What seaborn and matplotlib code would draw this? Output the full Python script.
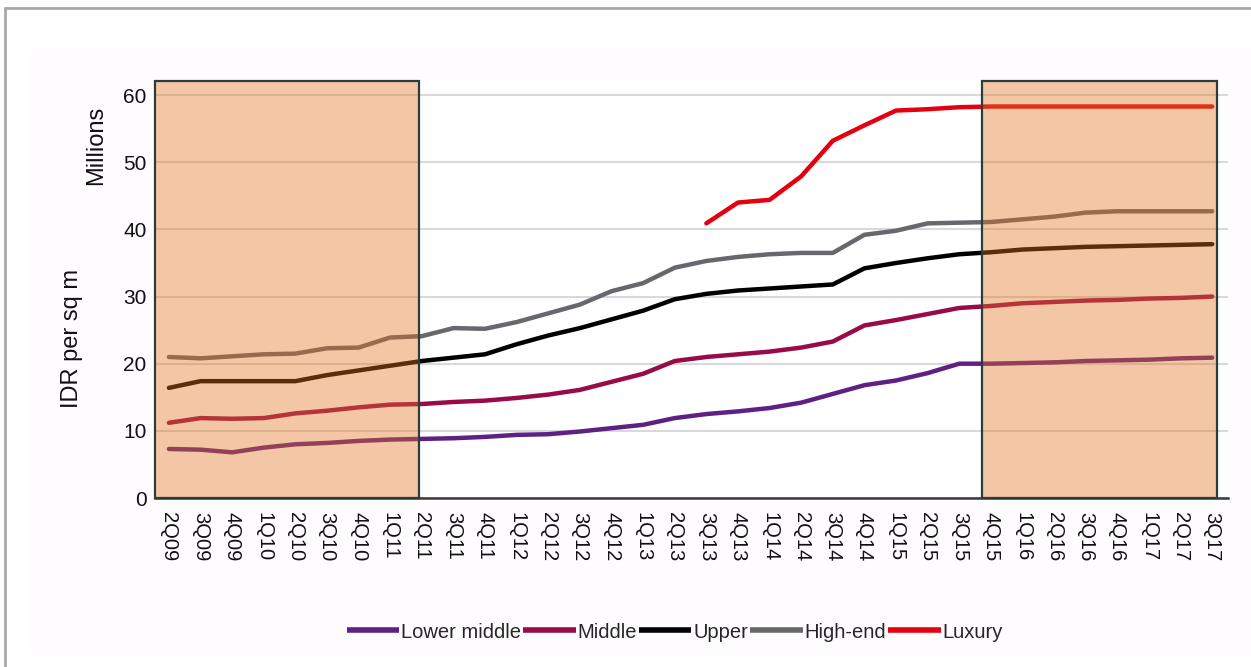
import numpy as np
import pandas as pd
import matplotlib
matplotlib.use("Agg")
import matplotlib.pyplot as plt
from matplotlib.patches import Rectangle
from matplotlib.lines import Line2D
import seaborn as sns

# Quarterly labels, 2Q09 .. 3Q17
quarters = ["2Q09", "3Q09", "4Q09",
            "1Q10", "2Q10", "3Q10", "4Q10",
            "1Q11", "2Q11", "3Q11", "4Q11",
            "1Q12", "2Q12", "3Q12", "4Q12",
            "1Q13", "2Q13", "3Q13", "4Q13",
            "1Q14", "2Q14", "3Q14", "4Q14",
            "1Q15", "2Q15", "3Q15", "4Q15",
            "1Q16", "2Q16", "3Q16", "4Q16",
            "1Q17", "2Q17", "3Q17"]

# Prices in IDR millions per sq m
lower_middle = [7.3, 7.2, 6.8, 7.5, 8.0, 8.2, 8.5, 8.7, 8.8, 8.9, 9.1, 9.4,
                9.5, 9.9, 10.4, 10.9, 11.9, 12.5, 12.9, 13.4, 14.2, 15.5,
                16.8, 17.5, 18.6, 20.0, 20.0, 20.1, 20.2, 20.4, 20.5, 20.6,
                20.8, 20.9]
middle = [11.2, 11.9, 11.8, 11.9, 12.6, 13.0, 13.5, 13.9, 14.0, 14.3, 14.5,
          14.9, 15.4, 16.1, 17.3, 18.5, 20.4, 21.0, 21.4, 21.8, 22.4, 23.3,
          25.7, 26.5, 27.4, 28.3, 28.6, 29.0, 29.2, 29.4, 29.5, 29.7, 29.8,
          30.0]
upper = [16.4, 17.4, 17.4, 17.4, 17.4, 18.3, 19.0, 19.7, 20.4, 20.9, 21.4,
         22.9, 24.2, 25.3, 26.6, 27.9, 29.6, 30.4, 30.9, 31.2, 31.5, 31.8,
         34.2, 35.0, 35.7, 36.3, 36.6, 37.0, 37.2, 37.4, 37.5, 37.6, 37.7,
         37.8]
high_end = [21.0, 20.8, 21.1, 21.4, 21.5, 22.3, 22.4, 23.9, 24.1, 25.3, 25.2,
            26.2, 27.5, 28.8, 30.8, 32.0, 34.3, 35.3, 35.9, 36.3, 36.5, 36.5,
            39.2, 39.8, 40.9, 41.0, 41.1, 41.5, 41.9, 42.5, 42.7, 42.7, 42.7,
            42.7]
luxury = [None] * 17 + [40.9, 44.0, 44.4, 47.9, 53.2, 55.5, 57.7, 57.9, 58.2,
                        58.3, 58.3, 58.3, 58.3, 58.3, 58.3, 58.3, 58.3]

segments = ["Lower middle", "Middle", "Upper", "High-end", "Luxury"]
series = [lower_middle, middle, upper, high_end, luxury]
colors = ["#5E2183", "#990A48", "#000000", "#67676E", "#E3000F"]
y_ticks = [0, 10, 20, 30, 40, 50, 60]

sns.set_theme(style="white")
plt.rcParams["font.family"] = ["Liberation Sans", "DejaVu Sans"]

rows = []
for name, vals in zip(segments, series):
    for i, v in enumerate(vals):
        if v is not None:
            rows.append({"pos": i, "value": v, "segment": name})
df = pd.DataFrame(rows)

fig = plt.figure(figsize=(12.51, 6.67), dpi=100)
fig.patch.set_facecolor("white")

# chart area panel and page frame
fig.add_artist(Rectangle((30 / 1251, 1 - 653 / 667), 1 - 30 / 1251,
                         (653 - 53) / 667, transform=fig.transFigure,
                         facecolor="#FEFCFE", edgecolor="none", zorder=0))
fig.add_artist(Line2D([5 / 1251, 1.0], [1 - 8 / 667, 1 - 8 / 667],
                      transform=fig.transFigure, color="#A8A8A8", lw=2))
fig.add_artist(Line2D([5 / 1251, 5 / 1251], [0.0, 1 - 8 / 667],
                      transform=fig.transFigure, color="#A8A8A8", lw=2))

ax = fig.add_axes([155 / 1251, 1 - 498 / 667, (1228 - 155) / 1251,
                   (498 - 81) / 667])
ax.set_facecolor("white")

sns.lineplot(data=df, x="pos", y="value", hue="segment",
             hue_order=segments, palette=dict(zip(segments, colors)),
             linewidth=3.2, ax=ax, legend=False, zorder=2, sort=False)

x_left, x_right = -0.44, 33.5
y_top = 62.1
ax.set_xlim(x_left, x_right)
ax.set_ylim(0, y_top)

# shaded periods (semi-transparent overlay on the lines)
for x0, x1 in [(x_left, 7.9), (25.73, 33.16)]:
    ax.add_patch(Rectangle((x0, 0), x1 - x0, y_top, facecolor="#E3731E",
                           alpha=0.4, edgecolor="none", zorder=3))
    ax.add_patch(Rectangle((x0, 0), x1 - x0, y_top, fill=False,
                           edgecolor="#2E3B3B", lw=1.6, zorder=4,
                           clip_on=False))

ax.set_yticks(y_ticks)
ax.set_yticklabels([str(t) for t in y_ticks], fontsize=15, color="#111111")
ax.yaxis.grid(True, color="#D9D9D9", lw=1.5, zorder=0)
ax.set_axisbelow(True)
ax.set_xticks(range(len(quarters)))
ax.set_xticklabels(quarters, rotation=-90, fontsize=14.5, color="#111111",
                   va="top", ha="center")
ax.tick_params(axis="both", length=0, pad=6)
ax.tick_params(axis="x", pad=10)
for side in ["top", "right", "left"]:
    ax.spines[side].set_visible(False)
ax.spines["bottom"].set_color("#3A3A3A")
ax.spines["bottom"].set_linewidth(1.8)
ax.set_xlabel("")
ax.set_ylabel("")

fig.text(72 / 1251, 1 - 338 / 667, "IDR per sq m", rotation=90,
         fontsize=17, ha="center", va="center", color="#111111")
fig.text(96 / 1251, 1 - 145 / 667, "Millions", rotation=90,
         fontsize=17, ha="center", va="center", color="#111111")

handles = [Line2D([0], [0], color=c, lw=4, solid_capstyle="butt")
           for c in colors]
fig.legend(handles, segments, loc="center", ncol=5,
           bbox_to_anchor=(675 / 1251, 1 - 632 / 667), frameon=False,
           fontsize=14.5, handlelength=2.6, handletextpad=0.1,
           columnspacing=0.1)

fig.savefig("out.png", dpi=100, facecolor=fig.get_facecolor())
